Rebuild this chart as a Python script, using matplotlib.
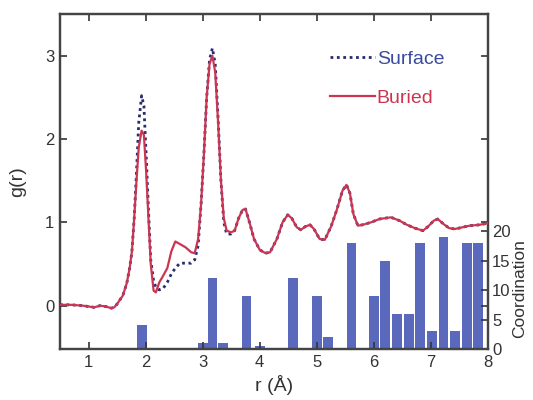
import matplotlib
matplotlib.use("Agg")
import matplotlib.pyplot as plt

plt.rcParams['font.family'] = ['Liberation Sans', 'DejaVu Sans']

# g(r) curves (shared r grid)
r = [0.5, 0.7, 0.9, 1.0, 1.1, 1.2, 1.3, 1.4, 1.45, 1.5, 1.6, 1.67, 1.72, 1.76, 1.8,
     1.84, 1.88, 1.93, 1.97, 2.01, 2.05, 2.09, 2.14, 2.18, 2.24, 2.3, 2.38, 2.45,
     2.52, 2.6, 2.7, 2.8, 2.86, 2.92, 2.97, 3.02, 3.07, 3.12, 3.17, 3.22, 3.27,
     3.32, 3.37, 3.42, 3.5, 3.56, 3.63, 3.7, 3.75, 3.82, 3.9, 4.0, 4.1, 4.18, 4.3,
     4.4, 4.49, 4.56, 4.65, 4.72, 4.8, 4.88, 4.95, 5.05, 5.14, 5.25, 5.35, 5.45,
     5.52, 5.58, 5.64, 5.72, 5.8, 5.95, 6.1, 6.3, 6.45, 6.58, 6.72, 6.86, 6.95,
     7.05, 7.12, 7.22, 7.32, 7.42, 7.55, 7.68, 7.85, 8.0]
g_buried = [0.01, 0.01, 0.0, -0.01, -0.02, 0.0, -0.01, -0.03, -0.02, 0.02, 0.12, 0.27,
            0.45, 0.65, 1.05, 1.5, 1.9, 2.1, 2.05, 1.6, 1.05, 0.5, 0.18, 0.16, 0.28,
            0.35, 0.45, 0.65, 0.77, 0.74, 0.7, 0.64, 0.63, 0.8, 1.2, 1.8, 2.5, 2.9,
            3.0, 2.8, 2.2, 1.5, 1.05, 0.9, 0.88, 0.9, 1.05, 1.15, 1.16, 1.0, 0.8,
            0.67, 0.63, 0.64, 0.8, 1.0, 1.09, 1.05, 0.94, 0.91, 0.95, 0.97, 0.92,
            0.8, 0.79, 0.95, 1.15, 1.38, 1.45, 1.35, 1.1, 0.96, 0.97, 1.0, 1.04,
            1.06, 1.02, 0.97, 0.93, 0.9, 0.95, 1.02, 1.04, 0.98, 0.93, 0.92, 0.94,
            0.96, 0.97, 0.99]
g_surface = [0.01, 0.01, 0.0, -0.01, -0.02, 0.0, -0.01, -0.03, -0.02, 0.02, 0.12, 0.27,
             0.45, 0.65, 1.05, 1.6, 2.2, 2.52, 2.4, 1.8, 1.15, 0.55, 0.3, 0.22, 0.19,
             0.2, 0.28, 0.38, 0.45, 0.51, 0.51, 0.51, 0.55, 0.72, 1.2, 1.8, 2.5, 2.95,
             3.09, 2.9, 2.25, 1.5, 1.0, 0.86, 0.86, 0.9, 1.05, 1.15, 1.16, 1.0, 0.8,
             0.67, 0.63, 0.64, 0.8, 1.0, 1.09, 1.05, 0.94, 0.91, 0.95, 0.97, 0.92,
             0.8, 0.79, 0.95, 1.15, 1.38, 1.45, 1.35, 1.1, 0.96, 0.97, 1.0, 1.04,
             1.06, 1.02, 0.97, 0.93, 0.9, 0.95, 1.02, 1.04, 0.98, 0.93, 0.92, 0.94,
             0.96, 0.97, 0.99]

# coordination histogram
bar_r = [1.94, 3.0, 3.17, 3.35, 3.77, 4.0, 4.58, 5.0, 5.19, 5.61, 6.0, 6.19, 6.41,
         6.61, 6.81, 7.02, 7.22, 7.42, 7.63, 7.82]
bar_n = [4, 1, 12, 1, 9, 0.5, 12, 9, 2, 18, 9, 15, 6, 6, 18, 3, 19, 3, 18, 18]

fig = plt.figure(figsize=(5.33, 4.0), dpi=100)
ax = fig.add_axes([0.1126, 0.1275, 0.803, 0.8375])
ax2 = ax.twinx()
ax.set_zorder(2)
ax.patch.set_visible(False)

bar_color = '#5b69bd'
ax2.bar(bar_r, bar_n, width=0.17, color=bar_color, edgecolor='none')
ax2.set_ylim(0, 57)
ax2.set_yticks([0, 5, 10, 15, 20])
ax2.tick_params(axis='y', direction='in', length=5, width=1.2, labelsize=12,
                colors='#333333', pad=3)
ax2.set_ylabel('Coordination', fontsize=12.5, color='#333333')
ax2.yaxis.set_label_coords(1.056, 0.18)

ax.plot(r, g_surface, color='#262c6e', lw=2.0, ls=(0, (1.0, 1.3)), label='Surface',
        zorder=3)
ax.plot(r, g_buried, color='#cc3552', lw=1.6, label='Buried', zorder=4)

ax.set_xlim(0.5, 8)
ax.set_ylim(-0.52, 3.5)
ax.set_xticks(range(1, 9))
ax.set_yticks([0, 1, 2, 3])
ax.tick_params(axis='both', direction='in', length=5, width=1.2, labelsize=12,
               colors='#333333', top=True, pad=4)
ax.tick_params(axis='y', right=True, labelright=False)
ax.set_xlabel('r (Å)', fontsize=14, color='#333333', labelpad=4)
ax.set_ylabel('g(r)', fontsize=14, color='#333333', labelpad=14)

for a in (ax, ax2):
    for s in a.spines.values():
        s.set_color('#444444')
        s.set_linewidth(1.6)

leg = ax.legend(loc='upper left', bbox_to_anchor=(0.59, 0.945), frameon=False,
                fontsize=14, handlelength=2.3, handletextpad=0.1,
                labelspacing=1.1, labelcolor=['#3b4aa0', '#cc3552'])

fig.savefig('out.png', dpi=100)
